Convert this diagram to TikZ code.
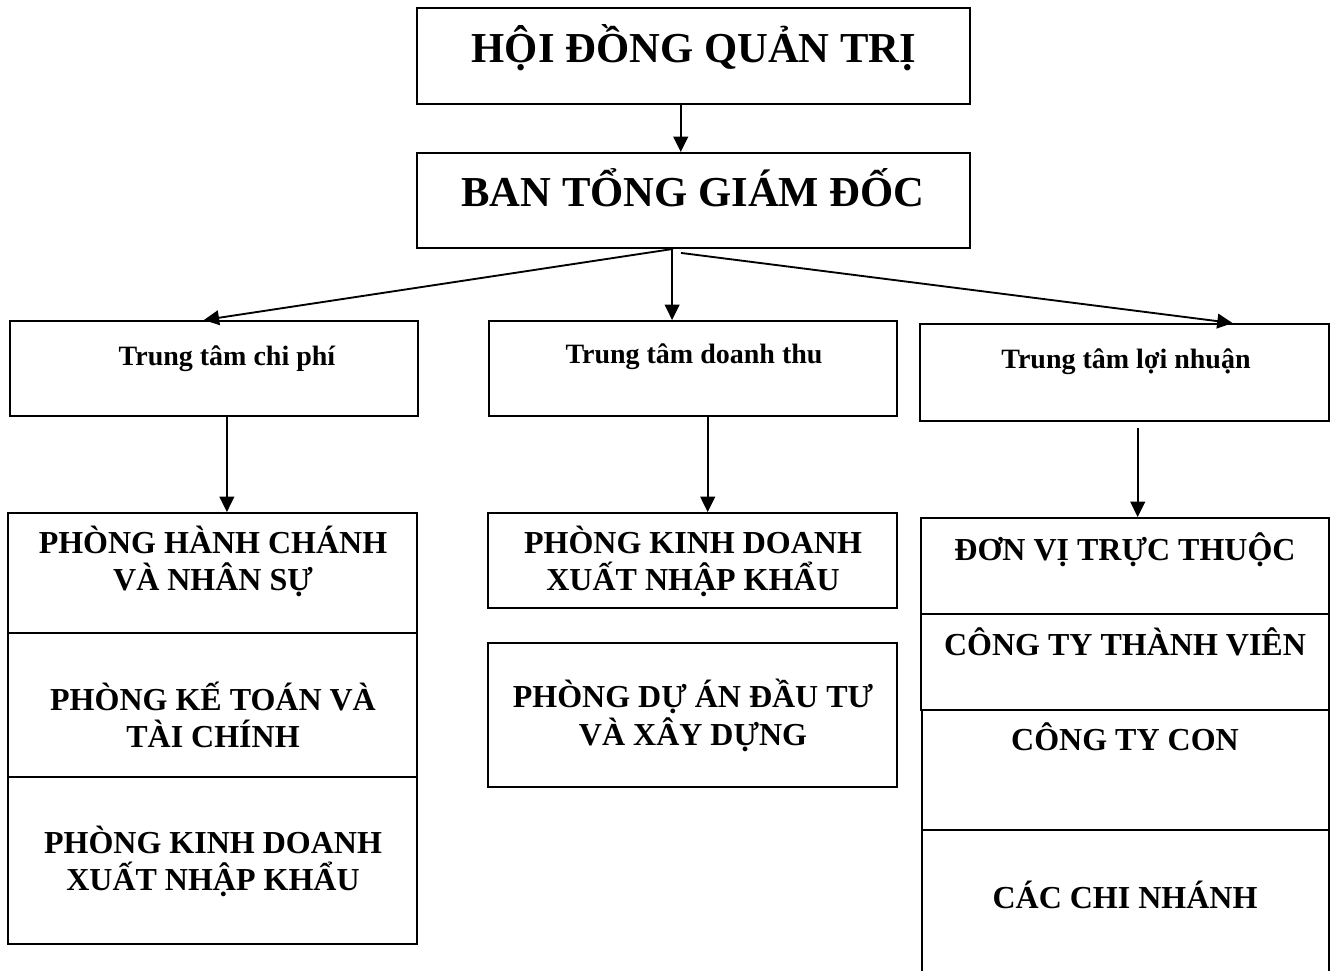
\documentclass[tikz,border=0pt]{standalone}
\usepackage{fontspec}
\setmainfont{Liberation Serif}
\usetikzlibrary{arrows.meta,fit,calc}

\tikzset{
  box/.style={draw, line width=1.4pt, inner sep=0pt, rectangle},
  arr/.style={draw, line width=1.4pt, -{Triangle[length=11.5pt,width=11pt]}},
  big/.style={anchor=base, font=\fontsize{32}{36}\selectfont\bfseries},
  mid/.style={anchor=base, font=\fontsize{24}{28}\selectfont\bfseries},
  small/.style={anchor=base, font=\fontsize{21}{25}\selectfont\bfseries},
}

\begin{document}
\begin{tikzpicture}[x=0.75pt, y=-0.75pt]
\clip (0,0) rectangle (1333,970);
\fill[white] (0,0) rectangle (1333,970);

% top levels
\node[box, fit={(417,8) (970,104)}] (hdqt) {};
\node[big] (hdqtt) at (694,63) {HỘI ĐỒNG QUẢN TRỊ};
\node[box, fit={(417,153) (970,248)}] (btgd) {};
\node[big] (btgdt) at (693,206) {BAN TỔNG GIÁM ĐỐC};

% responsibility centres
\node[box, fit={(10,321) (418,416)}] (cp) {};
\node[small] (cpt) at (227,365) {Trung tâm chi phí};
\node[box, fit={(489,321) (897,416)}] (dt) {};
\node[small] (dtt) at (694,363) {Trung tâm doanh thu};
\node[box, fit={(920,324) (1329,421)}] (ln) {};
\node[small] (lnt) at (1126,368) {Trung tâm lợi nhuận};

% cost centre departments
\node[box, fit={(8,513) (417,633)}] (hc) {};
\node[mid] (hc1) at (213,553.5) {PHÒNG HÀNH CHÁNH};
\node[mid] (hc2) at (213,590.5) {VÀ NHÂN SỰ};
\node[box, fit={(8,633) (417,777)}] (kt) {};
\node[mid] (kt1) at (213,710.5) {PHÒNG KẾ TOÁN VÀ};
\node[mid] (kt2) at (213,747.5) {TÀI CHÍNH};
\node[box, fit={(8,777) (417,944)}] (kd) {};
\node[mid] (kd1) at (213,853.5) {PHÒNG KINH DOANH};
\node[mid] (kd2) at (213,890.5) {XUẤT NHẬP KHẨU};

% revenue centre departments
\node[box, fit={(488,513) (897,608)}] (kdx) {};
\node[mid] (kdx1) at (693,553.5) {PHÒNG KINH DOANH};
\node[mid] (kdx2) at (693,590.5) {XUẤT NHẬP KHẨU};
\node[box, fit={(488,643) (897,787)}] (da) {};
\node[mid] (da1) at (693,707.5) {PHÒNG DỰ ÁN ĐẦU TƯ};
\node[mid] (da2) at (693,745.5) {VÀ XÂY DỰNG};

% profit centre units
\node[box, fit={(921,518) (1329,614)}] (dv) {};
\node[mid] (dvt) at (1125,560) {ĐƠN VỊ TRỰC THUỘC};
\node[box, fit={(921,614) (1329,710)}] (cttv) {};
\node[mid] (cttvt) at (1125,655) {CÔNG TY THÀNH VIÊN};
\node[box, fit={(922,710) (1329,830)}] (ctc) {};
\node[mid] (ctct) at (1125,750) {CÔNG TY CON};
\node[box, fit={(922,830) (1329,995)}] (ccn) {};
\node[mid] (ccnt) at (1125,908) {CÁC CHI NHÁNH};

% connectors
\coordinate (hout) at ($(hdqt.south west)!0.477!(hdqt.south east)$);
\draw[arr] (hout) -- (btgd.north -| hout);

\coordinate (bo) at ($(btgd.south west)!0.463!(btgd.south east)$);
\coordinate (cpin) at ($(cp.north west)!0.475!(cp.north east)$);
\coordinate (dtin) at ($(dt.north west)!0.449!(dt.north east)$);
\coordinate (lnin) at ($(ln.north west)!0.763!(ln.north east)$);
\draw[arr] (bo) -- (cpin);
\draw[arr] (btgd.south -| dtin) -- (dtin);
\draw[arr] ($(bo)+(8,4)$) -- (lnin);

\coordinate (hcin) at ($(hc.north west)!0.535!(hc.north east)$);
\coordinate (kdxin) at ($(kdx.north west)!0.537!(kdx.north east)$);
\coordinate (dvin) at ($(dv.north west)!0.531!(dv.north east)$);
\draw[arr] (cp.south -| hcin) -- (hcin);
\draw[arr] (dt.south -| kdxin) -- (kdxin);
\draw[arr] ($(ln.south -| dvin)+(0,6)$) -- (dvin);
\end{tikzpicture}
\end{document}
